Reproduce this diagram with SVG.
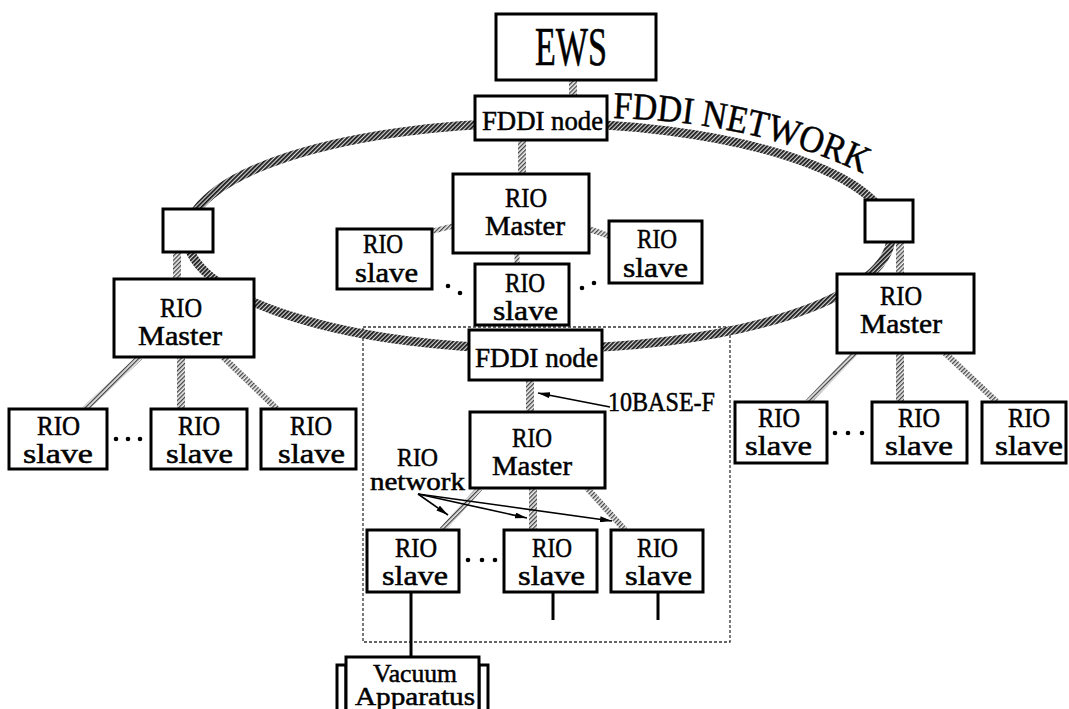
<svg xmlns="http://www.w3.org/2000/svg" width="1069" height="709" viewBox="0 0 1069 709">
<style>
.box{fill:#fff;stroke:#000;stroke-width:3}
.t{font-family:"Liberation Serif",serif;font-size:27px;fill:#000;stroke:#000;stroke-width:0.5}
.s{font-size:25px}
.big{font-family:"Liberation Serif",serif;font-size:54px;fill:#000;stroke:#000;stroke-width:0.6}
.net{font-family:"Liberation Serif",serif;font-size:38px;fill:#000;stroke:#000;stroke-width:0.5}
.lc{fill:none;stroke:url(#light);stroke-width:8}
.ring{fill:none;stroke:url(#ringp);stroke-width:9}
.thin{fill:none;stroke:#000;stroke-width:1.6}
.sol{fill:none;stroke:#000;stroke-width:3}
.dot{fill:#000}
</style>
<defs>
<pattern id="ringp" width="3" height="3" patternUnits="userSpaceOnUse" patternTransform="rotate(45)">
<rect width="3" height="3" fill="#d8d8d8"/><rect width="1.8" height="3" fill="#1a1a1a"/>
</pattern>
<pattern id="light" width="3" height="3" patternUnits="userSpaceOnUse" patternTransform="rotate(45)">
<rect width="3" height="3" fill="#eee"/><rect width="1.3" height="3" fill="#444"/>
</pattern>
<marker id="ah" viewBox="0 0 12 6" refX="12" refY="3" markerWidth="12" markerHeight="6" markerUnits="userSpaceOnUse" orient="auto">
<path d="M0,0 L12,3 L0,6 Z" fill="#000"/>
</marker>
<path id="arc" d="M613 118 Q760 122 872 178"/>
</defs>
<rect width="1069" height="709" fill="#fff"/>

<g id="enclosure">
<rect x="363" y="327" width="367" height="315" fill="none" stroke="#333" stroke-width="1.3" stroke-dasharray="3 2"/>
</g>

<g id="fddi-ring">
<ellipse class="ring" cx="539" cy="236" rx="352" ry="113"/>
<text class="net"><textPath href="#arc" textLength="258" lengthAdjust="spacingAndGlyphs">FDDI NETWORK</textPath></text>
</g>

<g id="connectors">
<line class="lc" x1="573" y1="80" x2="573" y2="96"/>
<line class="lc" x1="522" y1="140" x2="522" y2="174"/>
<line class="lc" x1="517" y1="253" x2="517" y2="265" style="stroke-width:5"/>
<line class="lc" x1="433" y1="231" x2="453" y2="226" style="stroke-width:5"/>
<line class="lc" x1="589" y1="229" x2="609" y2="236" style="stroke-width:6"/>
<line class="lc" x1="177" y1="252" x2="177" y2="280"/>
<line class="lc" x1="900" y1="242" x2="900" y2="275"/>
<line class="lc" x1="140" y1="357" x2="85" y2="409" style="stroke-width:6"/>
<line class="lc" x1="181" y1="357" x2="181" y2="409"/>
<line class="lc" x1="223" y1="357" x2="277" y2="409" style="stroke-width:6"/>
<line class="lc" x1="855" y1="353" x2="808" y2="402" style="stroke-width:6"/>
<line class="lc" x1="900" y1="353" x2="900" y2="402"/>
<line class="lc" x1="945" y1="353" x2="997" y2="402" style="stroke-width:6"/>
<line class="lc" x1="530" y1="380" x2="530" y2="412"/>
<line class="lc" x1="480" y1="488" x2="442" y2="530" style="stroke-width:6"/>
<line class="lc" x1="533" y1="488" x2="533" y2="530"/>
<line class="lc" x1="587" y1="488" x2="625" y2="530" style="stroke-width:6"/>
<line class="sol" x1="411" y1="592" x2="411" y2="657"/>
<line class="sol" x1="553" y1="592" x2="553" y2="620"/>
<line class="sol" x1="658" y1="592" x2="658" y2="620"/>
<line class="thin" x1="610" y1="407" x2="538" y2="393" marker-end="url(#ah)"/>
<line class="thin" x1="418" y1="494" x2="448" y2="515" marker-end="url(#ah)"/>
<line class="thin" x1="418" y1="494" x2="527" y2="518" marker-end="url(#ah)"/>
<line class="thin" x1="418" y1="494" x2="612" y2="521" marker-end="url(#ah)"/>
</g>

<g id="ews"><rect class="box" x="496" y="14" width="160" height="66"/>
<text class="big" x="535" y="65" textLength="72" lengthAdjust="spacingAndGlyphs">EWS</text></g>

<g id="fddi-node-top"><rect class="box" x="475" y="96" width="132" height="44"/>
<text class="t" x="482" y="130" textLength="121" lengthAdjust="spacingAndGlyphs">FDDI node</text></g>

<g id="rio-master-top"><rect class="box" x="453" y="174" width="136" height="79"/>
<text class="t" x="505" y="207" textLength="42" lengthAdjust="spacingAndGlyphs">RIO</text>
<text class="t" x="485" y="235" textLength="80" lengthAdjust="spacingAndGlyphs">Master</text></g>

<g id="rio-slave-top-left"><rect class="box" x="337" y="229" width="95" height="60"/>
<text class="t" x="363" y="253" textLength="40" lengthAdjust="spacingAndGlyphs">RIO</text>
<text class="t" x="355" y="282" textLength="63" lengthAdjust="spacingAndGlyphs">slave</text></g>

<g id="rio-slave-top-right"><rect class="box" x="609" y="221" width="93" height="62"/>
<text class="t" x="637" y="248" textLength="40" lengthAdjust="spacingAndGlyphs">RIO</text>
<text class="t" x="623" y="277" textLength="65" lengthAdjust="spacingAndGlyphs">slave</text></g>

<g id="rio-slave-top-center"><rect class="box" x="475" y="264" width="94" height="61"/>
<text class="t" x="505" y="292" textLength="40" lengthAdjust="spacingAndGlyphs">RIO</text>
<text class="t" x="493" y="320" textLength="65" lengthAdjust="spacingAndGlyphs">slave</text></g>

<g id="dots-top">
<circle class="dot" cx="448" cy="286" r="2.3"/><circle class="dot" cx="460" cy="293" r="2.3"/>
<circle class="dot" cx="582" cy="288" r="2.3"/><circle class="dot" cx="594" cy="283" r="2.3"/>
</g>

<g id="node-left"><rect class="box" x="163" y="209" width="50" height="43"/></g>
<g id="rio-master-left"><rect class="box" x="114" y="279" width="140" height="78"/>
<text class="t" x="160" y="317" textLength="42" lengthAdjust="spacingAndGlyphs">RIO</text>
<text class="t" x="138" y="345" textLength="84" lengthAdjust="spacingAndGlyphs">Master</text></g>

<g id="rio-slave-left-1"><rect class="box" x="9" y="409" width="98" height="60"/>
<text class="t" x="37" y="435" textLength="43" lengthAdjust="spacingAndGlyphs">RIO</text>
<text class="t" x="23" y="463" textLength="70" lengthAdjust="spacingAndGlyphs">slave</text></g>
<g id="rio-slave-left-2"><rect class="box" x="151" y="409" width="96" height="60"/>
<text class="t" x="178" y="435" textLength="42" lengthAdjust="spacingAndGlyphs">RIO</text>
<text class="t" x="166" y="463" textLength="67" lengthAdjust="spacingAndGlyphs">slave</text></g>
<g id="rio-slave-left-3"><rect class="box" x="261" y="409" width="95" height="60"/>
<text class="t" x="290" y="435" textLength="42" lengthAdjust="spacingAndGlyphs">RIO</text>
<text class="t" x="278" y="463" textLength="67" lengthAdjust="spacingAndGlyphs">slave</text></g>
<g id="dots-left">
<circle class="dot" cx="116" cy="439" r="2.3"/><circle class="dot" cx="128" cy="439" r="2.3"/><circle class="dot" cx="140" cy="439" r="2.3"/>
</g>

<g id="node-right"><rect class="box" x="865" y="200" width="48" height="42"/></g>
<g id="rio-master-right"><rect class="box" x="837" y="274" width="137" height="79"/>
<text class="t" x="880" y="305" textLength="42" lengthAdjust="spacingAndGlyphs">RIO</text>
<text class="t" x="860" y="333" textLength="82" lengthAdjust="spacingAndGlyphs">Master</text></g>

<g id="rio-slave-right-1"><rect class="box" x="735" y="402" width="92" height="61"/>
<text class="t" x="758" y="427" textLength="42" lengthAdjust="spacingAndGlyphs">RIO</text>
<text class="t" x="745" y="455" textLength="67" lengthAdjust="spacingAndGlyphs">slave</text></g>
<g id="rio-slave-right-2"><rect class="box" x="872" y="402" width="95" height="61"/>
<text class="t" x="898" y="427" textLength="42" lengthAdjust="spacingAndGlyphs">RIO</text>
<text class="t" x="885" y="455" textLength="68" lengthAdjust="spacingAndGlyphs">slave</text></g>
<g id="rio-slave-right-3"><rect class="box" x="982" y="402" width="84" height="61"/>
<text class="t" x="1008" y="427" textLength="42" lengthAdjust="spacingAndGlyphs">RIO</text>
<text class="t" x="995" y="455" textLength="68" lengthAdjust="spacingAndGlyphs">slave</text></g>
<g id="dots-right">
<circle class="dot" cx="835" cy="433" r="2.3"/><circle class="dot" cx="848" cy="433" r="2.3"/><circle class="dot" cx="862" cy="433" r="2.3"/>
</g>

<g id="fddi-node-bottom"><rect class="box" x="469" y="330" width="133" height="50"/>
<text class="t" x="475" y="367" textLength="123" lengthAdjust="spacingAndGlyphs">FDDI node</text></g>

<g id="label-10base-f"><text class="t" x="608" y="411" textLength="107" lengthAdjust="spacingAndGlyphs">10BASE-F</text></g>

<g id="rio-master-bottom"><rect class="box" x="470" y="412" width="135" height="76"/>
<text class="t" x="512" y="447" textLength="40" lengthAdjust="spacingAndGlyphs">RIO</text>
<text class="t" x="492" y="475" textLength="80" lengthAdjust="spacingAndGlyphs">Master</text></g>

<g id="label-rio-network">
<text class="t s" x="397" y="466" textLength="41" lengthAdjust="spacingAndGlyphs">RIO</text>
<text class="t s" x="370" y="490" textLength="95" lengthAdjust="spacingAndGlyphs">network</text></g>

<g id="rio-slave-bottom-1"><rect class="box" x="367" y="530" width="92" height="62"/>
<text class="t" x="395" y="557" textLength="42" lengthAdjust="spacingAndGlyphs">RIO</text>
<text class="t" x="382" y="585" textLength="66" lengthAdjust="spacingAndGlyphs">slave</text></g>
<g id="rio-slave-bottom-2"><rect class="box" x="504" y="530" width="93" height="62"/>
<text class="t" x="532" y="557" textLength="40" lengthAdjust="spacingAndGlyphs">RIO</text>
<text class="t" x="518" y="585" textLength="67" lengthAdjust="spacingAndGlyphs">slave</text></g>
<g id="rio-slave-bottom-3"><rect class="box" x="611" y="530" width="92" height="62"/>
<text class="t" x="637" y="557" textLength="41" lengthAdjust="spacingAndGlyphs">RIO</text>
<text class="t" x="625" y="585" textLength="67" lengthAdjust="spacingAndGlyphs">slave</text></g>
<g id="dots-bottom">
<circle class="dot" cx="468" cy="560" r="2.3"/><circle class="dot" cx="482" cy="560" r="2.3"/><circle class="dot" cx="495" cy="560" r="2.3"/>
</g>

<g id="vacuum-apparatus">
<rect class="box" x="337" y="665" width="9" height="50"/>
<rect class="box" x="479" y="665" width="9" height="50"/>
<rect class="box" x="346" y="657" width="133" height="58"/>
<text class="t s" x="373" y="682" textLength="84" lengthAdjust="spacingAndGlyphs">Vacuum</text>
<text class="t s" x="355" y="705" textLength="120" lengthAdjust="spacingAndGlyphs">Apparatus</text>
</g>
</svg>
